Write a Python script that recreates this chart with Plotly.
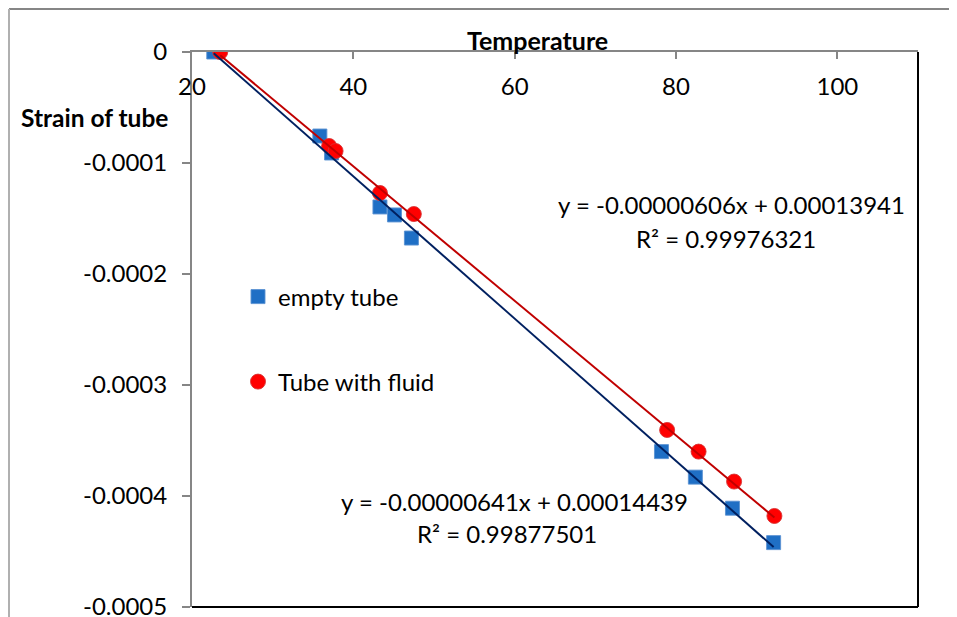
import plotly.graph_objs as go

# empty tube
empty_temp = [22.7, 35.85, 37.3, 43.3, 45.1, 47.2, 78.2, 82.4, 87.0, 92.1]
empty_strain = [0.0, -0.0000757, -0.000091, -0.0001396, -0.0001468, -0.0001676,
                -0.00036, -0.000383, -0.000411, -0.000442]

# tube with fluid
fluid_temp = [23.5, 37.0, 37.8, 43.3, 47.5, 78.9, 82.8, 87.2, 92.2]
fluid_strain = [0.0, -0.0000847, -0.0000892, -0.000127, -0.000146,
                -0.0003405, -0.00036, -0.000387, -0.000418]

# linear trendlines (Excel)
empty_slope, empty_icpt, empty_r2 = -0.00000641, 0.00014439, "0.99877501"
fluid_slope, fluid_icpt, fluid_r2 = -0.00000606, 0.00013941, "0.99976321"

y_ticks = [0, -0.0001, -0.0002, -0.0003, -0.0004, -0.0005]
y_tick_text = ["0", "-0.0001", "-0.0002", "-0.0003", "-0.0004", "-0.0005"]
x_ticks = [20, 40, 60, 80, 100]

# page body has an 8px margin, so the figure is shrunk by that much
OFF = 8
W, H = 957 - OFF, 617 - OFF
L, R, T, B = 192, 918, 52, 607   # plot area in window pixels
FONT = "Lato"


def px(x):
    return (x - L) / (R - L)


def py(y):
    return (B - y) / (B - T)


fig = go.Figure()

fig.add_trace(go.Scatter(
    x=empty_temp, y=empty_strain, mode='markers', name='empty tube',
    marker=dict(symbol='square', size=14, color='#1F6FC5',
                line=dict(color='rgba(90,145,210,0.9)', width=1)),
    legend='legend'
))
fig.add_trace(go.Scatter(
    x=fluid_temp, y=fluid_strain, mode='markers', name='Tube with fluid',
    marker=dict(symbol='circle', size=15, color='#FF0000',
                line=dict(color='rgba(215,50,50,0.9)', width=1)),
    legend='legend2'
))

# trendlines over the data range (on x2 so the label axis gets drawn)
ex = [min(empty_temp), max(empty_temp)]
fx = [min(fluid_temp), max(fluid_temp)]
fig.add_trace(go.Scatter(
    x=ex, y=[empty_slope * v + empty_icpt for v in ex], mode='lines',
    line=dict(color='#002060', width=2), showlegend=False, hoverinfo='skip',
    xaxis='x2'
))
fig.add_trace(go.Scatter(
    x=fx, y=[fluid_slope * v + fluid_icpt for v in fx], mode='lines',
    line=dict(color='#C00000', width=2), showlegend=False, hoverinfo='skip',
    xaxis='x2'
))

annos = [
    dict(text=f"y = {fluid_slope:.8f}x + {fluid_icpt:.8f}", x=px(731), y=py(205)),
    dict(text=f"R² = {fluid_r2}", x=px(726), y=py(238)),
    dict(text=f"y = {empty_slope:.8f}x + {empty_icpt:.8f}", x=px(514), y=py(501)),
    dict(text=f"R² = {empty_r2}", x=px(507), y=py(533)),
]
for a in annos:
    fig.add_annotation(xref='paper', yref='paper', showarrow=False,
                       xanchor='center', yanchor='middle',
                       font=dict(family=FONT, size=24, color='#000'), **a)

fig.add_annotation(text="<b>Temperature</b>", xref='paper', yref='paper',
                   x=px(537), y=py(40), showarrow=False,
                   xanchor='center', yanchor='middle',
                   font=dict(family=FONT, size=25, color='#000'))
fig.add_annotation(text="<b>Strain of tube</b>", xref='paper', yref='paper',
                   x=px(19), y=py(117), showarrow=False,
                   xanchor='left', yanchor='middle',
                   font=dict(family=FONT, size=24.5, color='#000'))

# plot-area right/bottom border and outer chart border
shapes = [
    dict(type='line', xref='paper', yref='paper', x0=1, x1=1, y0=0, y1=1,
         line=dict(color='#000', width=2)),
    dict(type='line', xref='paper', yref='paper', x0=0, x1=1, y0=0, y1=0,
         line=dict(color='#000', width=2)),
    dict(type='line', xref='paper', yref='paper', x0=px(9), x1=px(957), y0=py(9), y1=py(9),
         line=dict(color='#868686', width=2)),
    dict(type='line', xref='paper', yref='paper', x0=px(9), x1=px(9), y0=py(9), y1=py(630),
         line=dict(color='#B0B0B0', width=2)),
]

fig.update_layout(
    width=W, height=H,
    paper_bgcolor='white', plot_bgcolor='white',
    margin=dict(l=L - OFF, r=W - (R - OFF), t=T - OFF, b=H - (B - OFF), autoexpand=False),
    font=dict(family=FONT, size=24, color='#000'),
    shapes=shapes,
    xaxis=dict(
        range=[20, 110], tickvals=x_ticks, side='top',
        showline=True, linecolor='#868686', linewidth=2,
        ticks='inside', ticklen=7, tickcolor='#868686', tickwidth=2,
        showticklabels=False, showgrid=False, zeroline=False, automargin=False
    ),
    # label-only axis: tick numbers sit just under the top axis line
    xaxis2=dict(
        matches='x', overlaying='x', anchor='free', position=py(70), side='bottom',
        tickvals=x_ticks, showline=False, ticks='', showgrid=False, zeroline=False,
        ticklabeloverflow='allow', automargin=False
    ),
    yaxis=dict(
        range=[-0.0005, 0], tickvals=y_ticks, ticktext=y_tick_text,
        showline=True, linecolor='#868686', linewidth=2,
        ticks='outside', ticklen=8, tickcolor='#868686', tickwidth=2,
        ticklabelstandoff=10, ticklabeloverflow='allow',
        showgrid=False, zeroline=False, automargin=False
    ),
    legend=dict(x=px(238), y=py(297), xanchor='left', yanchor='middle',
                bgcolor='rgba(0,0,0,0)', itemwidth=30,
                font=dict(family=FONT, size=24)),
    legend2=dict(x=px(238), y=py(382), xanchor='left', yanchor='middle',
                 bgcolor='rgba(0,0,0,0)', itemwidth=30,
                 font=dict(family=FONT, size=24)),
)

fig.write_html("out.html")
